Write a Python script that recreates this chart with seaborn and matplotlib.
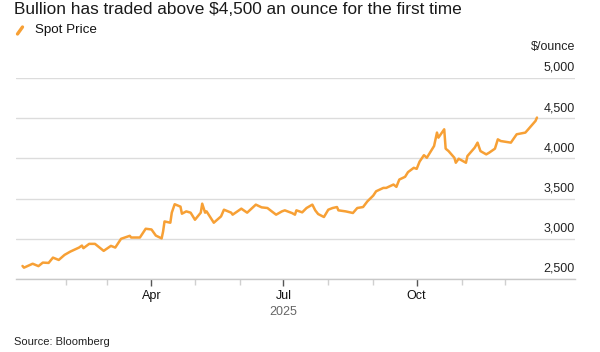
import seaborn as sns
import matplotlib.pyplot as plt
import matplotlib.dates as mdates
from matplotlib.lines import Line2D
import matplotlib.transforms as mtransforms
import pandas as pd

# spot price ($/ounce)
dates = [
    "2025-01-02", "2025-01-03", "2025-01-09", "2025-01-13", "2025-01-16", "2025-01-20",
    "2025-01-23", "2025-01-27", "2025-01-31", "2025-02-04", "2025-02-10", "2025-02-12",
    "2025-02-13", "2025-02-17", "2025-02-21", "2025-02-27", "2025-03-04", "2025-03-07",
    "2025-03-11", "2025-03-17", "2025-03-18", "2025-03-24", "2025-03-28", "2025-04-01",
    "2025-04-04", "2025-04-08", "2025-04-09", "2025-04-10", "2025-04-14", "2025-04-15",
    "2025-04-17", "2025-04-21", "2025-04-22", "2025-04-25", "2025-04-28", "2025-05-01",
    "2025-05-05", "2025-05-06", "2025-05-08", "2025-05-09", "2025-05-14", "2025-05-15",
    "2025-05-19", "2025-05-21", "2025-05-26", "2025-05-27", "2025-06-02", "2025-06-03",
    "2025-06-06", "2025-06-12", "2025-06-16", "2025-06-20", "2025-06-23", "2025-06-26",
    "2025-06-30", "2025-07-02", "2025-07-07", "2025-07-09", "2025-07-10", "2025-07-14",
    "2025-07-17", "2025-07-21", "2025-07-23", "2025-07-25", "2025-07-29", "2025-08-01",
    "2025-08-04", "2025-08-07", "2025-08-08", "2025-08-13", "2025-08-18", "2025-08-21",
    "2025-08-25", "2025-08-28", "2025-09-01", "2025-09-03", "2025-09-08", "2025-09-10",
    "2025-09-15", "2025-09-17", "2025-09-19", "2025-09-23", "2025-09-25", "2025-09-29",
    "2025-10-01", "2025-10-03", "2025-10-06", "2025-10-08", "2025-10-13", "2025-10-15",
    "2025-10-16", "2025-10-20", "2025-10-21", "2025-10-23", "2025-10-27", "2025-10-28",
    "2025-10-30", "2025-11-04", "2025-11-05", "2025-11-10", "2025-11-12", "2025-11-14",
    "2025-11-18", "2025-11-20", "2025-11-24", "2025-11-26", "2025-11-28", "2025-12-05",
    "2025-12-09", "2025-12-15", "2025-12-17", "2025-12-22", "2025-12-23",
]
prices = [
    2662, 2641, 2690, 2660, 2704, 2700,
    2766, 2737, 2800, 2841, 2891, 2916,
    2883, 2937, 2937, 2850, 2912, 2891,
    3000, 3037, 3016, 3016, 3125, 3116,
    3040, 3005, 3091, 3216, 3200, 3325,
    3430, 3400, 3312, 3341, 3325, 3237,
    3325, 3437, 3325, 3341, 3200, 3216,
    3279, 3362, 3325, 3300, 3375, 3362,
    3325, 3425, 3391, 3383, 3341, 3300,
    3341, 3354, 3320, 3300, 3354, 3329,
    3383, 3425, 3354, 3308, 3271, 3362,
    3383, 3395, 3354, 3341, 3321, 3383,
    3395, 3466, 3537, 3591, 3633, 3633,
    3675, 3646, 3737, 3771, 3829, 3883,
    3870, 3960, 4040, 4008, 4154, 4321,
    4258, 4362, 4121, 4091, 4008, 3946,
    3996, 3946, 4029, 4133, 4196, 4091,
    4050, 4071, 4121, 4237, 4216, 4196,
    4300, 4321, 4362, 4466, 4508,
]
y_ticks = [2500, 3000, 3500, 4000, 4500, 5000]

df = pd.DataFrame({"date": pd.to_datetime(dates), "price": prices})

sns.set_theme(style="white")
plt.rcParams["font.family"] = ["Liberation Sans", "DejaVu Sans"]

line_color = "#f7a035"
grid_color = "#dcdcdc"

fig = plt.figure(figsize=(6, 3.52), dpi=100)
ax = fig.add_axes([16 / 600, 1 - 279 / 352, 559 / 600, 201 / 352])

sns.lineplot(data=df, x="date", y="price", color=line_color, linewidth=1.8, ax=ax)

ax.set_xlim(pd.Timestamp("2024-12-28 12:00"), pd.Timestamp("2026-01-18 06:00"))
ax.set_ylim(2500, 5000)
ax.set_xlabel("")
ax.set_ylabel("")

# horizontal grid, labels sit on top of the lines at the right end
for sp in ["top", "right", "left"]:
    ax.spines[sp].set_visible(False)
ax.spines["bottom"].set_color("#c8c8c8")
ax.spines["bottom"].set_linewidth(1)
ax.set_yticks(y_ticks)
ax.yaxis.grid(True, color=grid_color, linewidth=1)
ax.tick_params(axis="y", length=0, labelleft=False)
ax.set_axisbelow(True)

trans = mtransforms.blended_transform_factory(ax.transAxes, ax.transData)
off = mtransforms.ScaledTranslation(0, 3 / 72, fig.dpi_scale_trans)
for v in y_ticks:
    ax.text(1.0, v, f"{v:,}", transform=trans + off, ha="right", va="bottom",
            fontsize=9, color="#222222")
ax.text(1.0, 1.0, "$/ounce", transform=ax.transAxes + mtransforms.ScaledTranslation(0, 18 / 72, fig.dpi_scale_trans),
        ha="right", va="bottom", fontsize=9, color="#222222")

# month ticks, labels only on quarters
ax.xaxis.set_major_locator(mdates.MonthLocator(bymonth=[4, 7, 10]))
ax.xaxis.set_major_formatter(mdates.DateFormatter("%b"))
ax.xaxis.set_minor_locator(mdates.MonthLocator(bymonth=[2, 3, 5, 6, 8, 9, 11, 12]))
ax.tick_params(axis="x", which="major", length=5, width=1, color="#555555",
               labelsize=9, labelcolor="#111111", pad=3, bottom=True)
ax.tick_params(axis="x", which="minor", length=4, width=1, color="#d0d0d0", bottom=True)
ax.text(pd.Timestamp("2025-07-01"), -0.135, "2025", transform=mtransforms.blended_transform_factory(ax.transData, ax.transAxes),
        ha="center", va="top", fontsize=9, color="#666666")

# title, legend and source
fig.text(14 / 600, 1 - 10 / 352, "Bullion has traded above $4,500 an ounce for the first time",
         ha="left", va="center", fontsize=12.4, color="#1a1a1a")
fig.add_artist(Line2D([17.5 / 600, 22.5 / 600], [1 - 34 / 352, 1 - 27 / 352],
                      color=line_color, linewidth=2.4, solid_capstyle="round", transform=fig.transFigure))
fig.text(35 / 600, 1 - 30 / 352, "Spot Price", ha="left", va="center", fontsize=9.6, color="#111111")
fig.text(14 / 600, 1 - 342 / 352, "Source: Bloomberg", ha="left", va="center", fontsize=8, color="#222222")

fig.savefig("out.png", dpi=100)
